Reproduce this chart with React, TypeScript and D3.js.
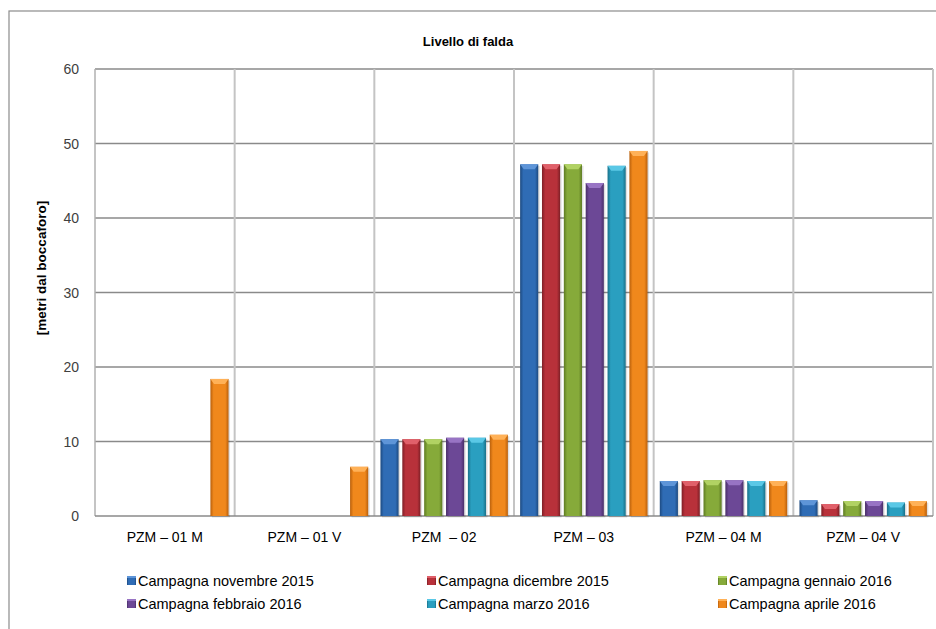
import React from "react";
import * as d3 from "d3";

const categories = ["PZM – 01 M", "PZM – 01 V", "PZM  – 02", "PZM – 03", "PZM – 04 M", "PZM – 04 V"];
const seriesNames = [
  "Campagna novembre 2015",
  "Campagna dicembre 2015",
  "Campagna gennaio 2016",
  "Campagna febbraio 2016",
  "Campagna marzo 2016",
  "Campagna aprile 2016",
];
const novembre = [0, 0, 10.3, 47.2, 4.7, 2.1];
const dicembre = [0, 0, 10.3, 47.2, 4.7, 1.6];
const gennaio = [0, 0, 10.3, 47.2, 4.8, 2.0];
const febbraio = [0, 0, 10.5, 44.7, 4.8, 2.0];
const marzo = [0, 0, 10.5, 47.0, 4.7, 1.8];
const aprile = [18.4, 6.6, 10.9, 49.0, 4.7, 2.0];
const yTicks = [0, 10, 20, 30, 40, 50, 60];
const colors = ["#2f6cb5", "#b8313a", "#86aa3a", "#6c4896", "#2a9fc0", "#f0881c"];
const darkColors = ["#1d4a80", "#7e1f26", "#5d7a22", "#4a2f69", "#1a7088", "#b9600c"];
const lightColors = ["#5e95d8", "#e0606a", "#b1d263", "#9874c4", "#5ac8e6", "#ffb157"];

const allSeries = [novembre, dicembre, gennaio, febbraio, marzo, aprile];

const font = "'Liberation Sans Narrow', 'Arial Narrow', Arial, sans-serif";

export default function App() {
  const W = 936, H = 629;
  const left = 95, right = 933, top = 69, bottom = 516;
  const x0 = d3.scaleBand<string>().domain(categories).range([left, right]).padding(0);
  const x1 = d3.scaleBand<number>().domain(d3.range(6)).range([0, x0.bandwidth()]).paddingInner(0.17).paddingOuter(0.28);
  const y = d3.scaleLinear().domain([0, 60]).range([bottom, top]);

  const legendX = [131, 431, 722];
  const legendY = [581, 604];

  return (
    <svg width={W} height={H} style={{ position: "absolute", left: 0, top: 0, background: "#fff" }}>
      <defs>
        {colors.map((c, i) => (
          <linearGradient key={i} id={`g${i}`} x1="0" x2="1" y1="0" y2="0">
            <stop offset="0" stopColor={darkColors[i]} />
            <stop offset="0.18" stopColor={c} />
            <stop offset="0.5" stopColor={c} />
            <stop offset="0.82" stopColor={c} />
            <stop offset="1" stopColor={darkColors[i]} />
          </linearGradient>
        ))}
      </defs>
      <rect x={9} y={11} width={940} height={640} fill="#fff" stroke="#8c8c8c" strokeWidth={1.2} />
      <text x={468} y={46} textAnchor="middle" fontFamily={font} fontWeight="bold" fontSize={13} fill="#000">
        Livello di falda
      </text>
      {/* horizontal gridlines */}
      {yTicks.map((t) => (
        <g key={t}>
          {t > 0 && <line x1={left} x2={right} y1={y(t)} y2={y(t)} stroke="#8a8a8a" strokeWidth={1.3} />}
          <text x={79} y={y(t) + 5} textAnchor="end" fontFamily={font} fontSize={14} fill="#404040">
            {t}
          </text>
        </g>
      ))}
      {/* vertical category lines */}
      {categories.map((c) => (
        <line key={c} x1={(x0(c) as number) + x0.bandwidth()} x2={(x0(c) as number) + x0.bandwidth()} y1={top} y2={bottom} stroke="#c4c4c4" strokeWidth={2} />
      ))}
      <line x1={left} x2={left} y1={top} y2={bottom} stroke="#b0b0b0" strokeWidth={1.5} />
      <line x1={left} x2={right} y1={bottom} y2={bottom} stroke="#8a8a8a" strokeWidth={1.3} />
      {/* bars */}
      {categories.map((c, ci) => (
        <g key={c}>
          {allSeries.map((s, si) => {
            const v = s[ci];
            if (!v) return null;
            const bx = (x0(c) as number) + (x1(si) as number);
            const bw = x1.bandwidth();
            const by = y(v);
            const bh = bottom - by;
            const bev = Math.min(5, bh / 2);
            return (
              <g key={si}>
                <rect x={bx + 1.5} y={by + 1.5} width={bw} height={bh} fill="#000" opacity={0.12} />
                <rect x={bx} y={by} width={bw} height={bh} fill={`url(#g${si})`} />
                <polygon
                  points={`${bx},${by} ${bx + bw},${by} ${bx + bw * 0.8},${by + bev} ${bx + bw * 0.2},${by + bev}`}
                  fill={lightColors[si]}
                />
              </g>
            );
          })}
          <text x={(x0(c) as number) + x0.bandwidth() / 2} y={542} textAnchor="middle" fontFamily={font} fontSize={14} fill="#000" style={{ whiteSpace: "pre" }}>
            {c}
          </text>
        </g>
      ))}
      <text transform={`translate(46,268) rotate(-90)`} textAnchor="middle" fontFamily={font} fontWeight="bold" fontSize={13.5} fill="#000">
        [metri dal boccaforo]
      </text>
      {/* legend */}
      {seriesNames.map((n, i) => {
        const lx = legendX[i % 3];
        const ly = legendY[Math.floor(i / 3)];
        return (
          <g key={n}>
            <rect x={lx - 4} y={ly - 5} width={9} height={9} fill={`url(#g${i})`} />
            <rect x={lx - 4} y={ly - 5} width={9} height={2} fill={lightColors[i]} />
            <text x={lx + 7} y={ly + 5} fontFamily={font} fontSize={14.5} fill="#000">
              {n}
            </text>
          </g>
        );
      })}
    </svg>
  );
}
